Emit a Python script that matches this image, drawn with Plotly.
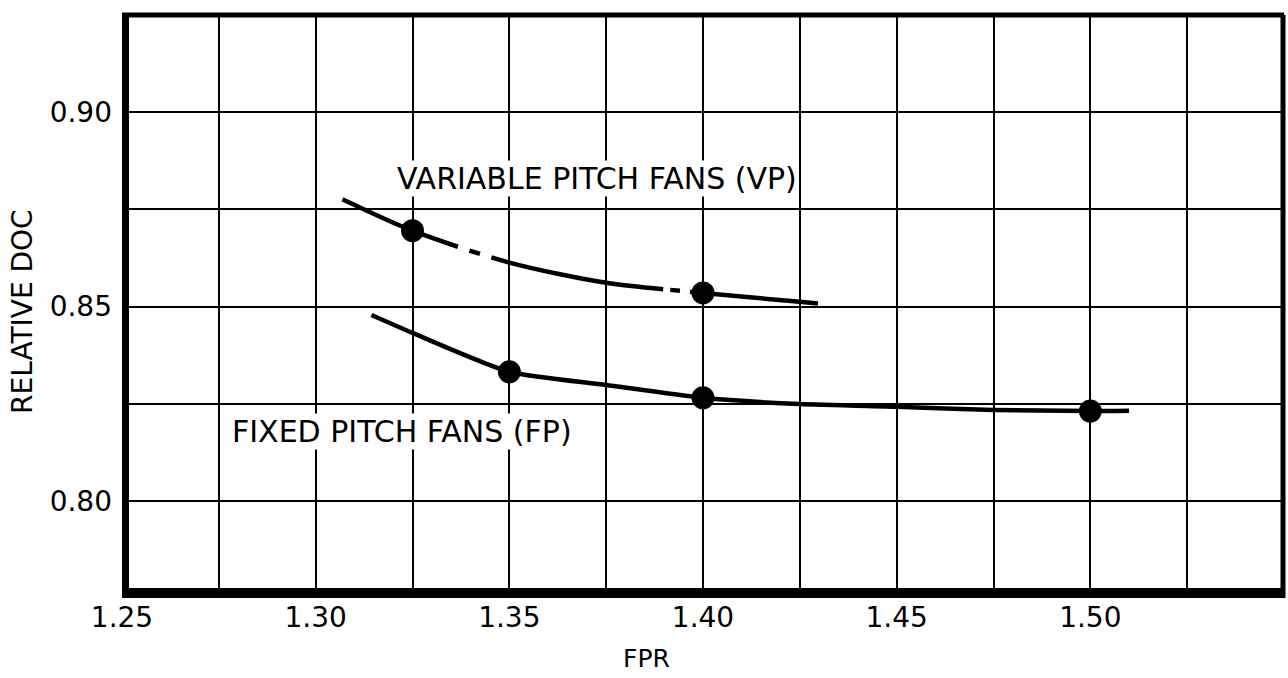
import plotly.graph_objects as go

# Relative DOC versus fan pressure ratio (FPR)
# Variable pitch fans (VP): faired curve and computed points
vp_curve_fpr = [1.3069, 1.325, 1.35, 1.375, 1.40, 1.425, 1.4297]
vp_curve_doc = [0.8776, 0.8695, 0.8613, 0.8561, 0.8535, 0.8512, 0.8508]
vp_point_fpr = [1.325, 1.40]
vp_point_doc = [0.8695, 0.8535]

# Fixed pitch fans (FP): faired curve and computed points
fp_curve_fpr = [1.3144, 1.325, 1.35, 1.375, 1.40, 1.425, 1.45, 1.475, 1.50, 1.51]
fp_curve_doc = [0.8478, 0.8432, 0.8332, 0.8298, 0.8265, 0.8249, 0.8242, 0.8234, 0.8231, 0.8232]
fp_point_fpr = [1.35, 1.40, 1.50]
fp_point_doc = [0.8332, 0.8265, 0.8231]

x_tick_vals = [1.25, 1.30, 1.35, 1.40, 1.45, 1.50]
x_tick_text = ["1.25", "1.30", "1.35", "1.40", "1.45", "1.50"]
y_tick_vals = [0.80, 0.85, 0.90]
y_tick_text = ["0.80", "0.85", "0.90"]

FONT = "DejaVu Sans"
INK = "black"

fig = go.Figure()

# VP curve: solid, broken into dash-dot between the two computed points
fig.add_trace(go.Scatter(
    x=vp_curve_fpr, y=vp_curve_doc, mode="lines",
    line=dict(color=INK, width=4.5, shape="spline", smoothing=0.8,
              dash="125px,12px,11px,12px,175px,7px,10px,10px,400px,1px"),
    hoverinfo="skip", showlegend=False))
fig.add_trace(go.Scatter(
    x=vp_point_fpr, y=vp_point_doc, mode="markers",
    marker=dict(color=INK, size=23, line=dict(width=0)),
    showlegend=False))

# FP curve
fig.add_trace(go.Scatter(
    x=fp_curve_fpr, y=fp_curve_doc, mode="lines",
    line=dict(color=INK, width=4.5, shape="spline", smoothing=0.6),
    hoverinfo="skip", showlegend=False))
fig.add_trace(go.Scatter(
    x=fp_point_fpr, y=fp_point_doc, mode="markers",
    marker=dict(color=INK, size=23, line=dict(width=0)),
    showlegend=False))

grid_common = dict(showgrid=True, gridcolor=INK, gridwidth=2,
                   zeroline=False, showline=False, ticks="",
                   tickfont=dict(family=FONT, size=28, color=INK))

fig.update_xaxes(
    range=[1.25, 1.55], tickmode="array",
    tickvals=x_tick_vals, ticktext=x_tick_text, ticklabelstandoff=0,
    minor=dict(tick0=1.25, dtick=0.025, showgrid=True,
               gridcolor=INK, gridwidth=2, ticks=""),
    **grid_common)
fig.update_yaxes(
    range=[0.775, 0.925], tickmode="array",
    tickvals=y_tick_vals, ticktext=y_tick_text, ticklabelstandoff=9,
    minor=dict(tick0=0.775, dtick=0.025, showgrid=True,
               gridcolor=INK, gridwidth=2, ticks=""),
    **grid_common)

# Frame: heavy left and bottom edges, lighter top and right
fig.add_shape(type="line", xref="paper", xsizemode="pixel", xanchor=0,
              x0=3.5, x1=3.5, yref="paper", y0=0, y1=1,
              line=dict(color=INK, width=7))
fig.add_shape(type="line", xref="paper", xsizemode="pixel", xanchor=1,
              x0=-1, x1=-1, yref="paper", y0=0, y1=1,
              line=dict(color=INK, width=5))
fig.add_shape(type="line", yref="paper", ysizemode="pixel", yanchor=0,
              y0=5, y1=5, xref="paper", x0=0, x1=1,
              line=dict(color=INK, width=10))
fig.add_shape(type="line", yref="paper", ysizemode="pixel", yanchor=1,
              y0=0, y1=0, xref="paper", x0=0, x1=1,
              line=dict(color=INK, width=5))

# Curve labels
fig.add_annotation(x=1.3727, y=0.883, xref="x", yref="y",
                   xanchor="center", yanchor="middle",
                   text="VARIABLE PITCH FANS (VP)", showarrow=False,
                   font=dict(family=FONT, size=30, color=INK),
                   bgcolor="white", borderpad=0)
fig.add_annotation(x=1.3224, y=0.8179, xref="x", yref="y",
                   xanchor="center", yanchor="middle",
                   text="FIXED PITCH FANS (FP)", showarrow=False,
                   font=dict(family=FONT, size=30, color=INK),
                   bgcolor="white", borderpad=0)

# Axis titles
fig.add_annotation(x=0, y=0.4906, xref="paper", yref="paper", xshift=-99,
                   xanchor="center", yanchor="middle",
                   text="RELATIVE DOC", textangle=-90, showarrow=False,
                   font=dict(family=FONT, size=28, color=INK))
fig.add_annotation(x=0.4518, y=0, xref="paper", yref="paper", yshift=-60,
                   xanchor="center", yanchor="middle",
                   text="FPR", showarrow=False,
                   font=dict(family=FONT, size=25, color=INK))

fig.update_layout(
    width=1288, height=678, autosize=False,
    margin=dict(l=122, r=4, t=15, b=80, pad=0),
    paper_bgcolor="white", plot_bgcolor="white",
    showlegend=False)

fig.write_html("out.html")
